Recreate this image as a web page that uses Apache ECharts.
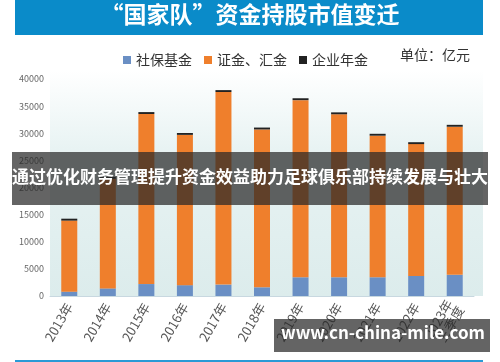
<!DOCTYPE html>
<html><head><meta charset="utf-8">
<script src="https://cdn.jsdelivr.net/npm/echarts@6/dist/echarts.min.js"></script>
<style>html,body{margin:0;padding:0;background:#fff}#c{width:500px;height:362px}</style>
</head><body><div id="c"></div>
<script>
const categories = ['2013年','2014年','2015年','2016年','2017年','2018年','2019年','2020年','2021年','2022年','2023年\n三季度'];
const sheBao = [800,1400,2200,2000,2100,1600,3450,3450,3450,3700,3900];
const zhengJin = [13100,20200,31350,27700,35500,29100,32650,30050,26100,24300,27300];
const qiYe = [350,350,350,350,350,350,350,350,350,350,350];
const yTicks = [0,5000,10000,15000,20000,25000,30000,35000,40000];
const F = '"Noto Sans CJK SC","Noto Sans",sans-serif';
const chart = echarts.init(document.getElementById('c'));
chart.setOption({
  animation:false,
  textStyle:{fontFamily:F},
  grid:{left:50,right:26,top:79,bottom:66},
  legend:{left:118,top:48,itemWidth:8,itemHeight:8,itemGap:12,icon:'rect',
    textStyle:{fontSize:14,color:'#333',fontFamily:F},
    data:['社保基金','证金、汇金','企业年金']},
  xAxis:{type:'category',data:categories,
    axisLine:{lineStyle:{color:'#c8d8e0'}},axisTick:{show:false},
    axisLabel:{rotate:60,fontSize:13,color:'#555',interval:0,margin:8,lineHeight:13}},
  yAxis:{type:'value',min:yTicks[0],max:yTicks[yTicks.length-1],interval:5000,
    splitLine:{show:false},axisLine:{show:false},axisTick:{show:false},
    axisLabel:{fontSize:9,color:'#666',margin:6,formatter:v=>String(v)}},
  series:[
    {name:'社保基金',type:'bar',stack:'a',data:sheBao,barWidth:16,itemStyle:{color:'#6a8fc4'}},
    {name:'证金、汇金',type:'bar',stack:'a',data:zhengJin,itemStyle:{color:'#ef7f2c'}},
    {name:'企业年金',type:'bar',stack:'a',data:qiYe,itemStyle:{color:'#222'}}
  ],
  graphic:[
    {type:'rect',z:-10,shape:{x:50,y:70,width:433,height:226},
      style:{fill:new echarts.graphic.LinearGradient(0,0,0,1,[{offset:0,color:'#ffffff'},{offset:0.35,color:'#e8f3f3'},{offset:1,color:'#dcecec'}])}},
    {type:'rect',shape:{x:15,y:0,width:468,height:35},style:{fill:'#0a8bc9'}},
    {type:'text',left:'center',top:3,style:{text:'“国家队”资金持股市值变迁',fill:'#fff',font:'bold 23px '+F}},
    {type:'text',left:400,top:48,style:{text:'单位：亿元',fill:'#333',font:'14px '+F}},
    {type:'rect',shape:{x:15,y:360,width:468,height:2},style:{fill:'#2a9ad6'}},
    {type:'rect',z:100,shape:{x:12,y:152,width:476,height:53},style:{fill:'rgba(40,40,40,0.72)'}},
    {type:'text',z:101,left:'center',top:168,style:{text:'通过优化财务管理提升资金效益助力足球俱乐部持续发展与壮大',fill:'#fff',font:'bold 17px '+F}},
    {type:'rect',z:100,shape:{x:274,y:319,width:216,height:33},style:{fill:'rgba(40,40,40,0.72)'}},
    {type:'text',z:101,left:281,top:324,style:{text:'www.cn-china-mile.com',fill:'#fff',font:'bold 17px '+F}}
  ]
});
</script></body></html>
